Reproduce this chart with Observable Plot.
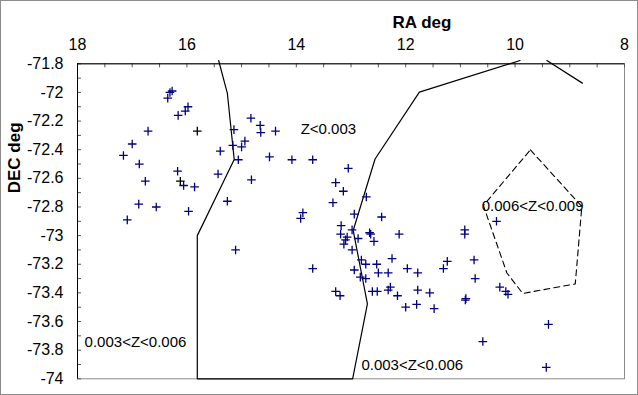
<!DOCTYPE html>
<html>
<head>
<meta charset="utf-8">
<script src="https://cdn.jsdelivr.net/npm/d3@7"></script>
<script src="https://cdn.jsdelivr.net/npm/@observablehq/plot@0.6"></script>
<style>
  html, body { margin: 0; padding: 0; background: #fff; }
  #wrap { position: relative; width: 638px; height: 395px; }
  #border { position: absolute; left: 0; top: 0; width: 638px; height: 395px; box-sizing: border-box; border: 1px solid #8c8c8c; pointer-events: none; }
  svg { display: block; }
</style>
</head>
<body>
<div id="wrap"><div id="border"></div></div>
<script>
// ---- Data (RA deg, DEC deg) ----
const bluePoints = [
  [16.31,-72.00],[16.27,-71.99],[16.35,-72.04],[16.16,-72.16],[16.03,-72.13],[15.98,-72.10],
  [16.71,-72.27],[17.00,-72.36],[17.16,-72.44],[16.87,-72.50],[16.17,-72.55],[16.76,-72.62],
  [16.06,-72.65],[15.86,-72.66],[16.88,-72.78],[16.56,-72.80],[15.97,-72.83],[17.09,-72.89],
  [14.83,-72.18],[14.66,-72.23],[14.65,-72.28],[14.38,-72.27],[15.14,-72.26],[14.94,-72.34],
  [15.00,-72.38],[15.16,-72.37],[15.39,-72.41],[15.06,-72.47],[14.49,-72.45],[14.08,-72.47],
  [13.70,-72.47],[13.05,-72.53],[13.28,-72.63],[13.14,-72.69],[13.33,-72.77],[13.88,-72.84],
  [13.92,-72.88],[12.94,-72.85],[14.82,-72.61],[15.43,-72.57],[15.26,-72.76],[15.11,-73.10],
  [13.70,-73.23],[13.28,-73.39],[13.20,-73.42],[13.18,-72.93],[13.19,-72.99],[13.07,-73.01],
  [13.10,-73.03],[13.13,-73.06],[12.98,-72.96],[12.98,-73.10],[12.94,-73.24],[12.72,-72.73],
  [12.44,-72.87],[12.66,-72.98],[12.64,-72.99],[12.58,-73.04],[12.12,-72.99],[10.92,-72.96],
  [10.92,-72.99],[12.87,-73.02],[12.81,-73.17],[12.73,-73.20],[12.53,-73.20],[12.25,-73.16],
  [12.83,-73.29],[12.73,-73.30],[12.50,-73.26],[12.32,-73.26],[11.97,-73.23],[11.78,-73.26],
  [11.31,-73.23],[11.24,-73.18],[10.75,-73.17],[10.73,-73.30],[12.61,-73.39],[12.52,-73.39],
  [12.32,-73.38],[12.28,-73.36],[12.15,-73.42],[11.78,-73.38],[11.56,-73.40],[12.00,-73.50],
  [11.80,-73.48],[11.48,-73.51],[10.90,-73.44],[10.91,-73.45],[10.59,-73.74],[10.34,-72.90],
  [10.28,-73.36],[10.17,-73.39],[10.13,-73.41],[9.39,-73.62],[9.43,-73.92]
];
const blackPoints = [[15.81,-72.27],[16.12,-72.62]];

// Region boundaries
const boundaryA = [[15.42,-71.777],[15.26,-72.007],[15.135,-72.468],[15.81,-73.0],[15.81,-74.0],
  [12.97,-74.0],[12.70,-73.476],[12.96,-72.964],[12.56,-72.465],[11.75,-71.998],[9.91,-71.777]];
const boundaryB = [[9.42,-71.777],[8.77,-71.935]];
const pentagon = [[9.72,-72.401],[8.78,-72.797],[8.90,-73.337],[9.86,-73.404],[10.15,-73.261],[10.58,-72.790],[9.72,-72.401]];

// Region labels
const regionLabels = [
  {ra: 13.92, dec: -72.254, text: "Z<0.003"},
  {ra: 17.87, dec: -73.746, text: "0.003<Z<0.006"},
  {ra: 12.81, dec: -73.907, text: "0.003<Z<0.006"},
  {ra: 10.61, dec: -72.793, text: "0.006<Z<0.009"}
];

// Ticks
const xTicks = [18, 16, 14, 12, 10, 8];
const xTickLabels = ["18", "16", "14", "12", "10", "8"];
const yTicks = [-71.8, -72, -72.2, -72.4, -72.6, -72.8, -73, -73.2, -73.4, -73.6, -73.8, -74];
const yTickLabels = ["-71.8", "-72", "-72.2", "-72.4", "-72.6", "-72.8", "-73", "-73.2", "-73.4", "-73.6", "-73.8", "-74"];
const xMinor = [18,17.5,17,16.5,16,15.5,15,14.5,14,13.5,13,12.5,12,11.5,11,10.5,10,9.5,9,8.5,8];
const yMinor = [-71.8,-71.9,-72,-72.1,-72.2,-72.3,-72.4,-72.5,-72.6,-72.7,-72.8,-72.9,-73,-73.1,-73.2,-73.3,-73.4,-73.5,-73.6,-73.7,-73.8,-73.9,-74];

const toObj = p => ({ra: p[0], dec: p[1]});
const cross = {
  draw(ctx, size) {
    const r = Math.sqrt(size / Math.PI);
    ctx.moveTo(-r, 0); ctx.lineTo(r, 0);
    ctx.moveTo(0, -r); ctx.lineTo(0, r);
  }
};
const font = "'Liberation Sans', Arial, Helvetica, sans-serif";

const chart = Plot.plot({
  width: 638,
  height: 395,
  marginTop: 63.3,
  marginLeft: 77,
  marginRight: 14,
  marginBottom: 16.7,
  style: {fontFamily: font, background: "white", color: "black"},
  x: {domain: [18, 8], axis: null},
  y: {domain: [-74, -71.8], axis: null},
  marks: [
    Plot.frame({stroke: "#8c8c8c"}),
    Plot.ruleX(xMinor, {x: d => d, insetBottom: 311, stroke: "#555"}),
    Plot.ruleY(yMinor, {y: d => d, insetRight: 543, stroke: "#555"}),
    Plot.ruleY([yTicks[0]], {stroke: "black"}),
    Plot.ruleX([xTicks[0]], {stroke: "black"}),
    Plot.line(boundaryA.map(toObj), {x: "ra", y: "dec", stroke: "black", strokeWidth: 1.2}),
    Plot.line(boundaryB.map(toObj), {x: "ra", y: "dec", stroke: "black", strokeWidth: 1.2}),
    Plot.line(pentagon.map(toObj), {x: "ra", y: "dec", stroke: "black", strokeWidth: 1.1, strokeDasharray: "6,4"}),
    Plot.dot(bluePoints.map(toObj), {x: "ra", y: "dec", symbol: cross, r: 4.3, stroke: "#000080", strokeWidth: 1.3, fill: "none"}),
    Plot.dot(blackPoints.map(toObj), {x: "ra", y: "dec", symbol: cross, r: 4.3, stroke: "black", strokeWidth: 1.3, fill: "none"}),
    Plot.text(regionLabels, {x: "ra", y: "dec", text: "text", textAnchor: "start", fontSize: 15, fill: "black"}),
    Plot.text(xTicks, {x: d => d, text: (d, i) => xTickLabels[i], frameAnchor: "top", dy: -25, fontSize: 16, fill: "black"}),
    Plot.text(yTicks, {y: d => d, text: (d, i) => yTickLabels[i], frameAnchor: "left", dx: -14, textAnchor: "end", fontSize: 16, fill: "black"}),
    Plot.text(["RA deg"], {frameAnchor: "top", dx: 71, dy: -48, fontSize: 17, fontWeight: "bold", fill: "black"}),
    Plot.text(["DEC deg"], {frameAnchor: "left", dx: -62.5, dy: -28, rotate: -90, fontSize: 17, fontWeight: "bold", fill: "black"})
  ]
});
document.getElementById("wrap").prepend(chart);
</script>
</body>
</html>
